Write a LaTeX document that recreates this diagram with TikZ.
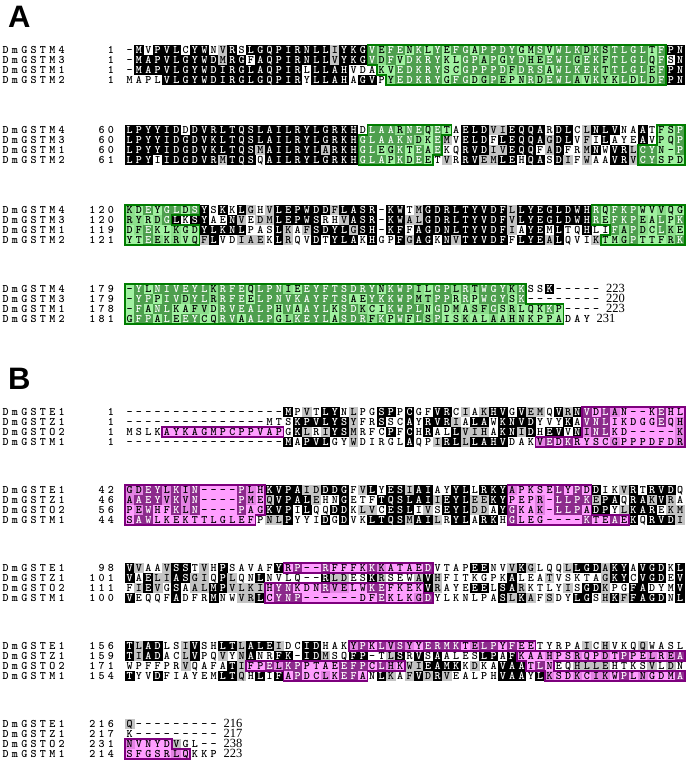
\documentclass[tikz,border=0pt]{standalone}
\usepackage{fontspec}
\setsansfont{Liberation Sans}
\newfontfamily\endfont{Liberation Serif}
\pgfdeclarelayer{shade}
\pgfdeclarelayer{regfill}
\pgfdeclarelayer{regline}
\pgfsetlayers{shade,regfill,main,regline}
\definecolor{gshade}{RGB}{195,195,195}
\definecolor{gfillc}{RGB}{115,235,115}
\definecolor{glinec}{RGB}{0,125,0}
\definecolor{mfillc}{RGB}{255,80,255}
\definecolor{mlinec}{RGB}{125,0,125}
\tikzset{
  alchar/.style={anchor=base, inner sep=0pt, outer sep=0pt, font=\ttfamily\bfseries\fontsize{11.5}{11.5}\selectfont},
  gfill/.style={fill=gfillc, fill opacity=0.68},
  gline/.style={draw=glinec, line width=1.5pt, line join=miter},
  mfill/.style={fill=mfillc, fill opacity=0.55},
  mline/.style={draw=mlinec, line width=1.7pt, line join=miter},
  endlab/.style={anchor=base west, inner sep=0pt, font=\endfont\fontsize{12.5}{12.5}\selectfont},
  panellab/.style={anchor=base west, inner sep=0pt, font=\sffamily\bfseries\fontsize{31}{31}\selectfont},
}
\ExplSyntaxOn
\fp_const:Nn \c_al_xo_fp {125}
\fp_const:Nn \c_al_cw_fp {9.33}
\fp_const:Nn \c_al_rh_fp {10}
\fp_const:Nn \c_al_bo_fp {3.5}
\str_const:Nn \c_al_ga_str {ILVM}
\str_const:Nn \c_al_gb_str {FYW}
\str_const:Nn \c_al_gc_str {KRH}
\str_const:Nn \c_al_gd_str {DE}
\str_const:Nn \c_al_ge_str {NQ}
\str_const:Nn \c_al_gf_str {ST}
\str_const:Nn \c_al_gg_str {AG}
\tl_const:Nx \c_al_dash_tl { \tl_to_str:n {-} }
\int_step_inline:nn {4}
  {
    \tl_new:c {l_al_r#1_tl}
    \tl_new:c {l_al_c#1_tl}
    \int_new:c {l_al_g#1_int}
  }
\cs_generate_variant:Nn \str_item:Nn {c}
\seq_new:N \l_al_names_seq
\seq_new:N \l_al_nums_seq
\seq_new:N \l_al_rows_seq
\seq_new:N \l_al_ends_seq
\clist_new:N \l_al_iv_clist
\tl_new:N \l_al_cur_tl
\tl_new:N \l_al_tmp_tl
\tl_new:N \l_al_xa_tl
\tl_new:N \l_al_xb_tl
\tl_new:N \l_al_xc_tl
\tl_new:N \l_al_ya_tl
\tl_new:N \l_al_yb_tl
\tl_new:N \l_al_yc_tl
\tl_new:N \l_al_shade_tl
\tl_new:N \l_al_path_tl
\fp_new:N \l_al_y_fp
\int_new:N \l_al_id_int
\int_new:N \l_al_sim_int
\int_new:N \l_al_len_int
\int_new:N \l_al_row_int
\int_new:N \l_al_n_int

\cs_new_protected:Npn \al_set_group:NN #1#2
  {
    \int_zero:N #2
    \tl_if_empty:NF #1
      {
        \exp_args:NNV \str_if_in:NnT \c_al_ga_str #1 { \int_set:Nn #2 {1} }
        \exp_args:NNV \str_if_in:NnT \c_al_gb_str #1 { \int_set:Nn #2 {2} }
        \exp_args:NNV \str_if_in:NnT \c_al_gc_str #1 { \int_set:Nn #2 {3} }
        \exp_args:NNV \str_if_in:NnT \c_al_gd_str #1 { \int_set:Nn #2 {4} }
        \exp_args:NNV \str_if_in:NnT \c_al_ge_str #1 { \int_set:Nn #2 {5} }
        \exp_args:NNV \str_if_in:NnT \c_al_gf_str #1 { \int_set:Nn #2 {6} }
        \exp_args:NNV \str_if_in:NnT \c_al_gg_str #1 { \int_set:Nn #2 {7} }
      }
  }

\cs_new_protected:Npn \al_place:nn #1#2
  {
    \tl_set:Nx \l_al_ya_tl { \fp_eval:n { \l_al_y_fp + (#2 - 1) * \c_al_rh_fp + \c_al_bo_fp } }
    \tl_set:Nx \l_al_xa_tl { \fp_eval:n {#1} }
    \int_step_inline:nn { \exp_args:NV \str_count:n \l_al_tmp_tl }
      {
        \tl_set:Nx \l_al_cur_tl { \str_item:Nn \l_al_tmp_tl {##1} }
        \tl_set:Nx \l_al_xc_tl { \fp_eval:n { \l_al_xa_tl + (##1 - 0.5) * \c_al_cw_fp } }
        \node[alchar] at (\l_al_xc_tl, \l_al_ya_tl) {\l_al_cur_tl};
      }
  }

\cs_new_protected:Npn \al_cell:nn #1#2
  {
    \tl_set_eq:Nc \l_al_cur_tl {l_al_c#1_tl}
    \tl_if_empty:NF \l_al_cur_tl
      {
        \int_zero:N \l_al_id_int
        \int_zero:N \l_al_sim_int
        \tl_if_eq:NNF \l_al_cur_tl \c_al_dash_tl
          {
            \int_step_inline:nn {4}
              {
                \tl_if_eq:NcT \l_al_cur_tl {l_al_c##1_tl} { \int_incr:N \l_al_id_int }
                \int_compare:nNnT { \int_use:c {l_al_g#1_int} } > {0}
                  {
                    \int_compare:nNnT { \int_use:c {l_al_g#1_int} } = { \int_use:c {l_al_g##1_int} }
                      { \int_incr:N \l_al_sim_int }
                  }
              }
          }
        \tl_set:Nx \l_al_xa_tl { \fp_eval:n { \c_al_xo_fp + (#2 - 1) * \c_al_cw_fp - 0.2 } }
        \tl_set:Nx \l_al_xb_tl { \fp_eval:n { \c_al_xo_fp + #2 * \c_al_cw_fp + 0.2 } }
        \tl_set:Nx \l_al_xc_tl { \fp_eval:n { \c_al_xo_fp + (#2 - 0.5) * \c_al_cw_fp } }
        \tl_set:Nx \l_al_ya_tl { \fp_eval:n { \l_al_y_fp + (#1 - 1.5) * \c_al_rh_fp - 0.2 } }
        \tl_set:Nx \l_al_yb_tl { \fp_eval:n { \l_al_y_fp + (#1 - 0.5) * \c_al_rh_fp + 0.2 } }
        \tl_set:Nx \l_al_yc_tl { \fp_eval:n { \l_al_y_fp + (#1 - 1) * \c_al_rh_fp + \c_al_bo_fp } }
        \int_compare:nNnTF \l_al_id_int > {1}
          {
            \tl_put_right:Nx \l_al_shade_tl
              { \exp_not:N \fill [black] (\l_al_xa_tl, \l_al_ya_tl) rectangle (\l_al_xb_tl, \l_al_yb_tl); }
            \node[alchar, text=white] at (\l_al_xc_tl, \l_al_yc_tl) {\l_al_cur_tl};
          }
          {
            \int_compare:nNnT \l_al_sim_int > {1}
              {
                \tl_put_right:Nx \l_al_shade_tl
                  { \exp_not:N \fill [gshade] (\l_al_xa_tl, \l_al_ya_tl) rectangle (\l_al_xb_tl, \l_al_yb_tl); }
              }
            \node[alchar] at (\l_al_xc_tl, \l_al_yc_tl) {\l_al_cur_tl};
          }
      }
  }

\cs_new_protected:Npn \al_column:n #1
  {
    \int_step_inline:nn {4}
      {
        \tl_set:cx {l_al_c##1_tl} { \str_item:cn {l_al_r##1_tl} {#1} }
        \exp_args:Ncc \al_set_group:NN {l_al_c##1_tl} {l_al_g##1_int}
      }
    \int_step_inline:nn {4}
      { \al_cell:nn {##1} {#1} }
  }

\cs_new_protected:Npn \al_block:nnnnn #1#2#3#4#5
  {
    \fp_set:Nn \l_al_y_fp {#1}
    \seq_set_from_clist:Nn \l_al_names_seq {#2}
    \seq_set_from_clist:Nn \l_al_nums_seq {#3}
    \seq_set_from_clist:Nn \l_al_rows_seq {#4}
    \seq_set_from_clist:Nn \l_al_ends_seq {#5}
    \int_zero:N \l_al_len_int
    \int_step_inline:nn {4}
      {
        \tl_set:cx {l_al_r##1_tl} { \seq_item:Nn \l_al_rows_seq {##1} }
        \int_set:Nn \l_al_n_int { \exp_args:Nv \str_count:n {l_al_r##1_tl} }
        \int_set:Nn \l_al_len_int { \int_max:nn { \l_al_len_int } { \l_al_n_int } }
        \tl_set:Nx \l_al_tmp_tl { \seq_item:Nn \l_al_names_seq {##1} }
        \al_place:nn {1} {##1}
        \tl_set:Nx \l_al_tmp_tl { \seq_item:Nn \l_al_nums_seq {##1} }
        \al_place:nn { \c_al_xo_fp - ( \exp_args:NV \str_count:n \l_al_tmp_tl + 1 ) * \c_al_cw_fp } {##1}
        \tl_set:Nx \l_al_tmp_tl { \seq_item:Nn \l_al_ends_seq {##1} }
        \tl_if_empty:NF \l_al_tmp_tl
          {
            \tl_set:Nx \l_al_xc_tl { \fp_eval:n { \c_al_xo_fp + \int_use:N \l_al_n_int * \c_al_cw_fp + 5 } }
            \tl_set:Nx \l_al_yc_tl { \fp_eval:n { \l_al_y_fp + (##1 - 1) * \c_al_rh_fp + \c_al_bo_fp } }
            \node[endlab] at (\l_al_xc_tl, \l_al_yc_tl) {\l_al_tmp_tl};
          }
      }
    \tl_clear:N \l_al_shade_tl
    \int_step_inline:nn { \l_al_len_int } { \al_column:n {##1} }
    \begin{pgfonlayer}{shade}
      \tl_use:N \l_al_shade_tl
    \end{pgfonlayer}
  }

\cs_new_protected:Npn \al_region_right:w #1/#2 \q_stop
  {
    \tl_put_right:Nx \l_al_path_tl
      {
        ( \fp_eval:n { \c_al_xo_fp + (#2) * \c_al_cw_fp } ,
          \fp_eval:n { \l_al_y_fp + ( \int_use:N \l_al_row_int - 1.5 ) * \c_al_rh_fp } ) --
        ( \fp_eval:n { \c_al_xo_fp + (#2) * \c_al_cw_fp } ,
          \fp_eval:n { \l_al_y_fp + ( \int_use:N \l_al_row_int - 0.5 ) * \c_al_rh_fp } ) --
      }
    \int_incr:N \l_al_row_int
  }
\cs_new_protected:Npn \al_region_left:w #1/#2 \q_stop
  {
    \tl_put_right:Nx \l_al_path_tl
      {
        ( \fp_eval:n { \c_al_xo_fp + (#1 - 1) * \c_al_cw_fp } ,
          \fp_eval:n { \l_al_y_fp + ( \int_use:N \l_al_row_int - 0.5 ) * \c_al_rh_fp } ) --
        ( \fp_eval:n { \c_al_xo_fp + (#1 - 1) * \c_al_cw_fp } ,
          \fp_eval:n { \l_al_y_fp + ( \int_use:N \l_al_row_int - 1.5 ) * \c_al_rh_fp } ) --
      }
    \int_decr:N \l_al_row_int
  }

\cs_new_protected:Npn \al_region:nnnn #1#2#3#4
  {
    \fp_set:Nn \l_al_y_fp {#1}
    \clist_set:Nn \l_al_iv_clist {#4}
    \tl_clear:N \l_al_path_tl
    \int_set:Nn \l_al_row_int {#3}
    \clist_map_inline:Nn \l_al_iv_clist { \al_region_right:w ##1 \q_stop }
    \clist_reverse:N \l_al_iv_clist
    \int_set:Nn \l_al_row_int { #3 + \clist_count:N \l_al_iv_clist - 1 }
    \clist_map_inline:Nn \l_al_iv_clist { \al_region_left:w ##1 \q_stop }
    \tl_put_right:Nn \l_al_path_tl { cycle }
    \begin{pgfonlayer}{regfill}
      \use:e { \exp_not:N \fill [#2fill] \exp_not:V \l_al_path_tl ; }
    \end{pgfonlayer}
    \begin{pgfonlayer}{regline}
      \use:e { \exp_not:N \draw [#2line] \exp_not:V \l_al_path_tl ; }
    \end{pgfonlayer}
  }

\NewDocumentCommand \AlBlock { m m m m m } { \al_block:nnnnn {#1} {#2} {#3} {#4} {#5} }
\NewDocumentCommand \AlRegion { m m m m } { \al_region:nnnn {#1} {#2} {#3} {#4} }
\ExplSyntaxOff

\begin{document}
\begin{tikzpicture}[x=1pt,y=-1pt]
\useasboundingbox (0,0) rectangle (685,775);
\begin{pgfonlayer}{shade}
\fill[white] (0,0) rectangle (685,775);
\end{pgfonlayer}
\node[panellab] (labA) at (8,28) {A};
\node[panellab] (labB) at (8,389) {B};

% ---------------- Panel A ----------------
\AlBlock{50}{DmGSTM4,DmGSTM3,DmGSTM1,DmGSTM2}{1,1,1,1}{%
-MVPVLCYWNVRSLGQPIRNLLIYKGVEFENKLYEFGAPPDYGMSVWLKDKSTLGLTFPN,%
-MAPVLGYWDMRGFAQPIRNLLVYKGVDFVDKRYKLGPAPGYDHEEWLGEKFTLGLQFSN,%
-MAPVLGYWDIRGLAQPIRLLLAHVDAKVEDKRYSCGPPPDFDRSAWLKEKTTLGLEFPN,%
MAPLVLGYWDIRGLGQPIRYLLAHAGVPYEDKRYGFGDGPEPNRDEWLAVKYKLDLDFPN}{}
\AlBlock{130}{DmGSTM4,DmGSTM3,DmGSTM1,DmGSTM2}{60,60,60,61}{%
LPYYIDDDVRLTQSLAILRYLGRKHDLAARNEQETAELDVIEQQARDLCLNLVNAATFSP,%
LPYYIDGDVKLTQSLAILRYLGRKHGLAAKNDKEMVELDFLEQQAGDLVFILAYEAVPQP,%
LPYYIDGDVKLTQSMAILRYLARKHGLEGKTEAEKQRVDIVEQQFADFRMNWVRLCYN-P,%
LPYIIDGDVRMTQSQAILRYLGRKHGLAPKDEETVRRVEMLEHQASDIFWAAVRVCYSPD}{}
\AlBlock{210}{DmGSTM4,DmGSTM3,DmGSTM1,DmGSTM2}{120,120,119,121}{%
KDEYGLDSYSKKLGHVLEPWDDFLASR-KWTMGDRLTYVDFLLYEGLDWHRQFKPWVVQG,%
RYRDGLKSYAENVEDMLEPWSRHVASR-KWALGDRLTYVDFVLYEGLDWHREFKPEALPK,%
DFEKLKGDYLKNLPASLKAFSDYLGSH-KFFAGDNLTYVDFIAYEMLTQHLIFAPDCLKE,%
YTEEKRVQFLVDIAEKLRQVDTYLAKHGPFGAGKNVTYVDFFLYEALQVIKTMGPTTFRK}{}
\AlBlock{289}{DmGSTM4,DmGSTM3,DmGSTM1,DmGSTM2}{179,179,178,181}{%
-YLNIVEYLKRFEQLPNIEEYFTSDRYNKWPILGPLRTWGYKKSSK-----,%
-YPPIVDYLRRFEELPNVKAYFTSAEYKKWPMTPPRRPWGYSK--------,%
-FANLKAFVDRVEALPHVAAYLKSDKCIKWPLNGDMASFGSRLQKKP----,%
GFPALEEYCQRVAALPGLKEYLASDRFKPWFLSPISKALAAHNKPPADAY}{223,220,223,231}

\AlRegion{50}{g}{1}{27/58,27/58,28/58,29/58}
\AlRegion{130}{g}{1}{27/35,26/34,26/34,26/33}
\AlRegion{130}{g}{1}{58/60,58/60,56/60,56/60}
\AlRegion{210}{g}{1}{1/8,1/5,1/8,1/8}
\AlRegion{210}{g}{1}{51/60,51/60,53/60,52/60}
\AlRegion{289}{g}{1}{1/43,1/43,1/47,1/47}

% ---------------- Panel B ----------------
\AlBlock{412}{DmGSTE1,DmGSTZ1,DmGSTO2,DmGSTM1}{1,1,1,1}{%
-----------------MPVTLYNLPGSPPCGFVRCIAKHVGVEMQVRNVDLAN--KEHL,%
---------------MTSKPVLYSYFRSSCAYRVRIALAWKNVDYVYKAVNLIKDGGEQH,%
MSLKAYKAGMPCPPVAPGKLRIYSMRFCPFCHRALLVIHAKNIDHEVVNINLKD-----K,%
-----------------MAPVLGYWDIRGLAQPIRLLLAHVDAKVEDKRYSCGPPPDFDR}{}
\AlBlock{490}{DmGSTE1,DmGSTZ1,DmGSTO2,DmGSTM1}{42,46,56,44}{%
GDEYLKIN----PLHKVPAIDDDGFVLYESIAIAYYLLRKYAPKSELYPDDIKVRTRVDQ,%
AAEYVKVN----PMEQVPALEHNGETFTQSLAIIEYLEEKYPEPR-LLPKEPAQRAKVRA,%
PEWHFKLN----PAGKVPILQQDDKLVCESLIVSEYLDDAYGKAK-LLPADPYLKAREKM,%
SAWLKEKTTLGLEFPNLPYYIDGDVKLTQSMAILRYLARKHGLEG----KTEAEKQRVDI}{}
\AlBlock{568}{DmGSTE1,DmGSTZ1,DmGSTO2,DmGSTM1}{98,101,111,100}{%
VVAAVSSTVHPSAVAFYRP--RFFFKKKATAEDVTAPEENVVKGLQQLLGDAKYAVGDKL,%
VAELIASGIQPLQNLNVLQ--RLDESKRSEWAVHFITKGPKALEATVSKTAGKYCVGDEV,%
FIEVGSAALMPVLKIHYNKDNRVELWKEFKEKVRAYEEELSARKTLYISGDKPGFADYMV,%
VEQQFADFRMNWVRLCYNP------DFEKLKGDYLKNLPASLKAFSDYLGSHKFFAGDNL}{}
\AlBlock{646}{DmGSTE1,DmGSTZ1,DmGSTO2,DmGSTM1}{156,159,171,154}{%
TLADLSIVSHLTLALEIDCIDHAKYPKLVSYYERMKTELPYFEETYRPAICHVKQQWASL,%
TIADACLVPQVYNANRFK-IDMSQFP-TLSRVSAALESLPAFKAAHPSRQPDTPPELREA,%
WPFFPRVQAFATIFPELKPPTAEEFPCLHKWIEAMKKDKAVAATLNEQHLLEHTKSVLDN,%
TYVDFIAYEMLTQHLIFAPDCLKEFANLKAFVDRVEALPHVAAYLKSDKCIKWPLNGDMA}{}
\AlBlock{724}{DmGSTE1,DmGSTZ1,DmGSTO2,DmGSTM1}{216,217,231,214}{%
Q---------,K---------,NVNYDVGL--,SFGSRLQKKP}{216,217,238,223}

\AlRegion{412}{m}{3}{5/17}
\AlRegion{412}{m}{1}{50/60,50/60,50/60,45/60}
\AlRegion{490}{m}{1}{1/15,1/15,1/15,1/14}
\AlRegion{490}{m}{1}{42/50,42/50,42/50,42/54}
\AlRegion{568}{m}{1}{18/33}
\AlRegion{568}{m}{3}{16/32,16/33}
\AlRegion{646}{m}{1}{25/44}
\AlRegion{646}{m}{3}{14/30,18/26}
\AlRegion{646}{m}{2}{43/60,44/46,46/60}
\AlRegion{724}{m}{3}{1/5,1/7}
\end{tikzpicture}
\end{document}
